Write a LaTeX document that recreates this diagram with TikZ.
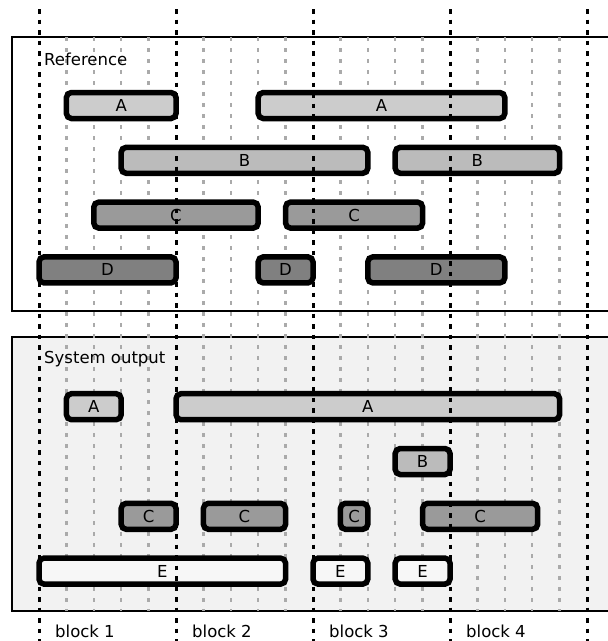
\documentclass[tikz,border=0pt]{standalone}
\usepackage{fontspec}
\setmainfont{DejaVu Sans}
\definecolor{colA}{HTML}{CCCCCC}
\definecolor{colB}{HTML}{BBBBBB}
\definecolor{colC}{HTML}{9A9A9A}
\definecolor{colD}{HTML}{808080}
\definecolor{colE}{HTML}{F7F7F7}
\definecolor{sysbg}{HTML}{F2F2F2}
\definecolor{gridgrey}{HTML}{AAAAAA}
\tikzset{
  barbox/.style={draw=black, line width=5.5pt, rounded corners=5pt, inner sep=0pt, outer sep=0pt,
    font=\fontsize{16.5}{19}\selectfont, text=black},
  panel/.style={draw=black, line width=2pt},
  minorline/.style={draw=gridgrey, line width=2.5pt, dash pattern=on 4pt off 7pt},
  majorline/.style={draw=black, line width=3pt, dash pattern=on 4.5pt off 6pt},
  lbl/.style={anchor=west, inner sep=0pt, font=\fontsize{16.5}{19}\selectfont}
}
\newcommand{\mkbar}[6]{\node[barbox, fill=#6, minimum width={(#3-#2)*27.4pt}, minimum height=26pt] (#1) at ({39+(#2+#3)/2*27.4}, {-#4}) {#5};}
\begin{document}
\begin{tikzpicture}[x=1pt, y=1pt]
\useasboundingbox (0,0) rectangle (608,-641);
% panels
\draw[panel, fill=white] (12,-37) rectangle (620,-311);
\draw[panel, fill=sysbg] (12,-337) rectangle (620,-611);
% minor grid lines
\foreach \i in {1,2,3,4,6,7,8,9,11,12,13,14,16,17,18,19} {
  \coordinate (gt\i) at ({39+27.4*\i}, -37);
  \coordinate (gb\i) at ({39+27.4*\i}, -611);
  \draw[minorline] (gt\i) -- (gb\i);
}
% reference bars
\mkbar{rA1}{1}{5}{105.5}{A}{colA}
\mkbar{rA2}{8}{17}{105.5}{A}{colA}
\mkbar{rB1}{3}{12}{160.3}{B}{colB}
\mkbar{rB2}{13}{19}{160.3}{B}{colB}
\mkbar{rC1}{2}{8}{215.1}{C}{colC}
\mkbar{rC2}{9}{14}{215.1}{C}{colC}
\mkbar{rD1}{0}{5}{269.9}{D}{colD}
\mkbar{rD2}{8}{10}{269.9}{D}{colD}
\mkbar{rD3}{12}{17}{269.9}{D}{colD}
% system bars
\mkbar{sA1}{1}{3}{406.7}{A}{colA}
\mkbar{sA2}{5}{19}{406.7}{A}{colA}
\mkbar{sB1}{13}{15}{461.5}{B}{colB}
\mkbar{sC1}{3}{5}{516.3}{C}{colC}
\mkbar{sC2}{6}{9}{516.3}{C}{colC}
\mkbar{sC3}{11}{12}{516.3}{C}{colC}
\mkbar{sC4}{14}{18.2}{516.3}{C}{colC}
\mkbar{sE1}{0}{9}{571.1}{E}{colE}
\mkbar{sE2}{10}{12}{571.1}{E}{colE}
\mkbar{sE3}{13}{15}{571.1}{E}{colE}
% major block lines
\foreach \k in {0,1,2,3,4} {
  \coordinate (mt\k) at ({39+137*\k}, -9);
  \coordinate (mb\k) at ({39+137*\k}, -641);
  \draw[majorline] (mt\k) -- (mb\k);
}
% labels
\node[lbl] (refl) at (44,-59) {Reference};
\node[lbl] (sysl) at (44,-359) {System output};
\node[lbl] (b1) at (55,-631.5) {block 1};
\node[lbl] (b2) at (192,-631.5) {block 2};
\node[lbl] (b3) at (329,-631.5) {block 3};
\node[lbl] (b4) at (466,-631.5) {block 4};
\end{tikzpicture}
\end{document}
